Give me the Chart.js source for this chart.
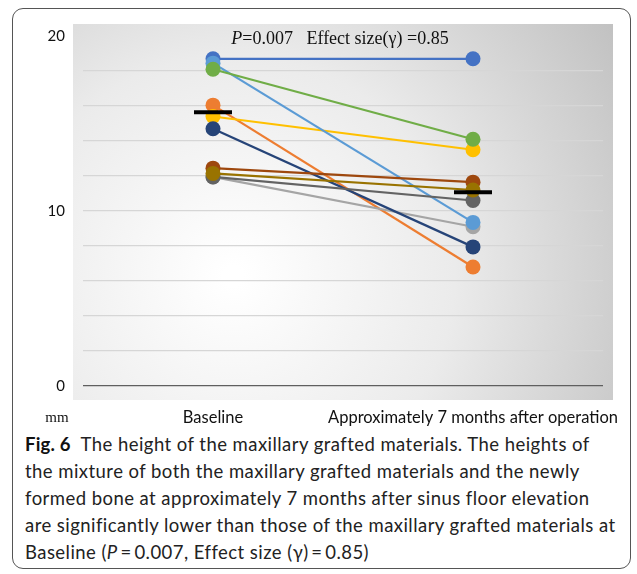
<!DOCTYPE html>
<html>
<head>
<meta charset="utf-8">
<script src="https://cdn.jsdelivr.net/npm/chart.js@4"></script>
<style>
  html, body { margin: 0; padding: 0; background: #fff; }
  body { width: 637px; height: 574px; position: relative; overflow: hidden; }
  #frame {
    position: absolute; left: 12px; top: 8px; width: 619px; height: 561px;
    border: 1px solid #555; border-radius: 11px; box-sizing: border-box;
  }
  #chartBox { position: absolute; left: 0; top: 0; width: 637px; height: 430px; }
  #caption {
    position: absolute; left: 25px; top: 431px; width: 610px;
    font-family: Lato, "Noto Sans", sans-serif; font-size: 18.5px; line-height: 27px; color: #222;
    letter-spacing: 0.45px; white-space: nowrap;
  }
  #caption b { font-weight: 700; color: #111; letter-spacing: 0.2px; }
</style>
</head>
<body>
<div id="frame"></div>
<div id="chartBox"><canvas id="heightChart"></canvas></div>
<div id="caption"><b>Fig. 6</b>&nbsp; The height of the maxillary grafted materials. The heights of<br>the mixture of both the maxillary grafted materials and the newly<br>formed bone at approximately 7 months after sinus floor elevation<br>are significantly lower than those of the maxillary grafted materials at<br>Baseline (<i>P</i>&#8201;=&#8201;0.007, Effect size (γ)&#8201;=&#8201;0.85)</div>

<script>
// categories and values (mm)
const timepoints = ['Baseline', 'Approximately 7 months after operation'];
const baselineHeights = [18.7, 16.05, 11.95, 15.4, 18.45, 18.1, 14.7, 12.45, 11.95, 12.15];
const afterHeights    = [18.7, 6.8, 9.1, 13.5, 9.35, 14.1, 7.95, 11.65, 10.6, 11.2];
const meanHeights = [15.64, 11.07];
const seriesColors = ['#4472C4', '#ED7D31', '#A5A5A5', '#FFC000', '#5B9BD5',
                      '#70AD47', '#264478', '#9E480E', '#636363', '#997300'];
const yTickLabels = [0, 10, 20];

const datasets = baselineHeights.map((b, i) => ({
  label: 'Case ' + (i + 1),
  data: [b, afterHeights[i]],
  borderColor: seriesColors[i],
  backgroundColor: seriesColors[i],
  borderWidth: 2.25,
  pointRadius: 7.5,
  pointBorderWidth: 0,
  order: 10 - i,   // later series on top, like the original
  tension: 0
}));

// mean markers (short black bars)
datasets.push({
  label: 'Mean',
  data: meanHeights,
  showLine: false,
  pointStyle: 'line',
  pointRadius: 19,
  pointBorderWidth: 4,
  borderColor: '#000',
  backgroundColor: '#000',
  order: 0
});

// grey panel behind the plot + annotation text
const panelPlugin = {
  id: 'panel',
  beforeDraw(chart) {
    const { ctx, chartArea: a } = chart;
    const x0 = a.left - 10, y0 = a.top - 12, x1 = a.right + 10, y1 = a.bottom + 14;
    const g = ctx.createRadialGradient(a.left + 150, a.top + 240, 10, a.left + 150, a.top + 240, 480);
    g.addColorStop(0, '#ffffff');
    g.addColorStop(0.45, '#ebebeb');
    g.addColorStop(1, '#bdbdbd');
    ctx.save();
    ctx.fillStyle = g;
    ctx.fillRect(x0, y0, x1 - x0, y1 - y0);
    ctx.restore();
  },
  afterDraw(chart) {
    const { ctx, chartArea: a } = chart;
    ctx.save();
    ctx.fillStyle = '#111';
    ctx.textBaseline = 'middle';
    // title
    const it = 'italic 18px "Liberation Serif", serif';
    const rm = '18px "Liberation Serif", serif';
    const rest = '=0.007   Effect size(γ) =0.85';
    ctx.font = it; const wP = ctx.measureText('P').width;
    ctx.font = rm; const wR = ctx.measureText(rest).width;
    let x = 340 - (wP + wR) / 2;
    const y = a.top + 3;
    ctx.font = it; ctx.textAlign = 'left'; ctx.fillText('P', x, y);
    ctx.font = rm; ctx.fillText(rest, x + wP, y);
    // unit label
    ctx.font = '15px "Liberation Serif", serif';
    ctx.textAlign = 'center';
    ctx.fillText('mm', 57, a.bottom + 32);
    ctx.restore();
  }
};

const ctx = document.getElementById('heightChart').getContext('2d');
const heightChart = new Chart(ctx, {
  type: 'line',
  data: { labels: timepoints, datasets: datasets },
  options: {
    responsive: true,
    maintainAspectRatio: false,
    animation: false,
    layout: { padding: { left: 0, top: 36, right: 34, bottom: 0 } },
    plugins: {
      legend: { display: false },
      tooltip: { enabled: false }
    },
    scales: {
      x: {
        offset: true,
        grid: { display: false, drawTicks: false },
        border: { display: false },
        ticks: {
          color: '#111', padding: 22, maxRotation: 0, autoSkip: false,
          font: { family: 'Lato, "Noto Sans", sans-serif', size: 16.5 }
        },
        afterFit: s => { s.height = 44; s.paddingLeft = 0; s.paddingRight = 0; }
      },
      y: {
        min: 0,
        max: 20,
        grid: {
          drawTicks: false,
          color: c => c.tick.value === 0 ? '#5f5f5f' : (c.tick.value === 20 ? 'rgba(0,0,0,0)' : '#d6d6d6'),
          lineWidth: c => c.tick.value === 0 ? 1.3 : 1.2
        },
        border: { display: false },
        ticks: {
          stepSize: 2,
          padding: 18,
          color: '#111',
          font: { family: 'Lato, "Noto Sans", sans-serif', size: 15 },
          callback: v => yTickLabels.includes(v) ? v : ''
        },
        afterFit: s => { s.width = 83; }
      }
    }
  },
  plugins: [panelPlugin]
});
</script>
</body>
</html>
